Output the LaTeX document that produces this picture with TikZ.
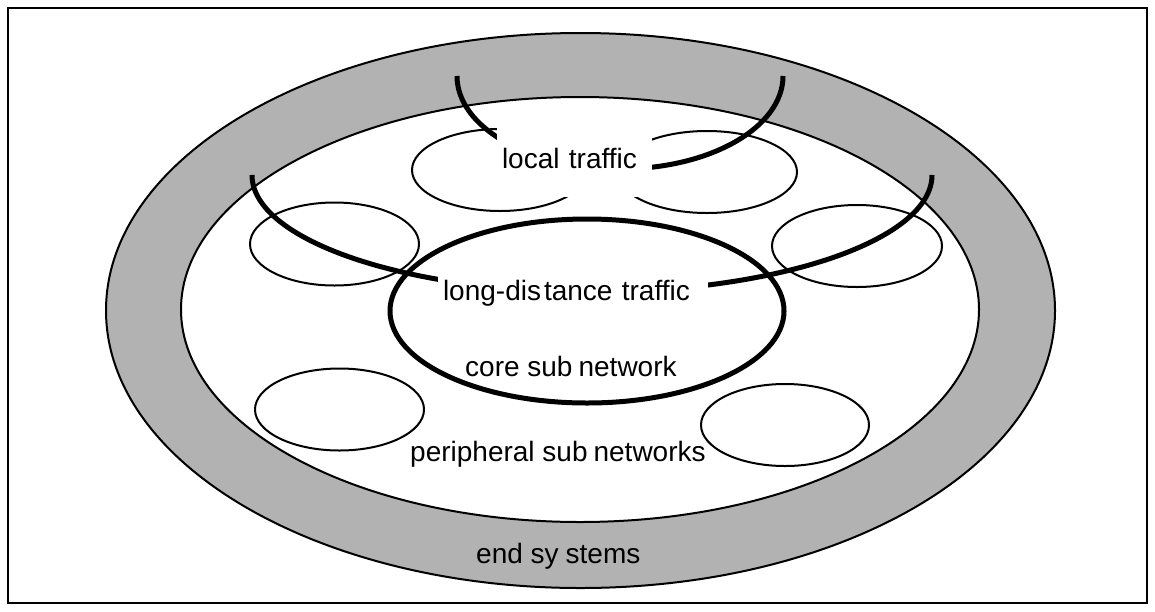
\documentclass[tikz,border=0pt]{standalone}
\usepackage{fontspec}
\setmainfont{Liberation Sans}
\usetikzlibrary{shapes.geometric}
\definecolor{bandgray}{RGB}{178,178,178}
\tikzset{
  ring/.style={ellipse, draw=black, line width=2pt, inner sep=0pt},
  subnet/.style={ellipse, draw=black, line width=2pt, inner sep=0pt},
  corenet/.style={ellipse, draw=black, line width=5pt, inner sep=0pt},
  traffic/.style={draw=black, line width=5pt},
  caption/.style={font=\fontsize{28}{34}\selectfont, inner sep=0pt, anchor=base west},
  gapbox/.style={fill=white, inner xsep=5pt, inner ysep=0pt, align=left,
                 font=\fontsize{28}{34}\selectfont}
}
\begin{document}
\begin{tikzpicture}[x=1pt,y=1pt]
\useasboundingbox (0,0) rectangle (1155,-611);
% frame
\draw[line width=2pt] (8,-8) rectangle (1147,-603);
% end systems band and the area of the subnetworks
\node[ring, fill=bandgray, minimum width=949pt, minimum height=555pt] (endsys) at (580.5,-310.5) {};
\node[ring, fill=white, minimum width=798pt, minimum height=425pt] (inner) at (580,-309.5) {};
% peripheral subnetworks
\node[subnet, minimum width=176pt, minimum height=82pt] (ptl) at (500,-170) {};
\node[subnet, minimum width=180pt, minimum height=82pt] (ptr) at (707,-172) {};
\node[subnet, minimum width=169pt, minimum height=83pt] (pml) at (334.5,-244) {};
\node[subnet, minimum width=170pt, minimum height=82pt] (pmr) at (857,-246) {};
\node[subnet, minimum width=169pt, minimum height=82pt] (pbl) at (339.5,-409.5) {};
\node[subnet, minimum width=168pt, minimum height=82pt] (pbr) at (785,-425) {};
% core subnetwork
\node[corenet, minimum width=394pt, minimum height=184pt] (core) at (587,-311) {};
% traffic paths
\coordinate (localstart) at (457,-76);
\coordinate (longstart) at (252,-175);
\draw[traffic] (localstart) arc[start angle=180, end angle=360, x radius=163, y radius=93];
\draw[traffic] (longstart) arc[start angle=180, end angle=360, x radius=340, y radius=117];
% labels
\node[gapbox, text width=145pt, minimum height=77pt] (localtxt) at (574.5,-158.5) {local traffic};
\node[gapbox, text width=260pt, minimum height=40pt] (longtxt) at (573,-293) {long-dis\kern3pt tance traffic};
\node[caption] (coretxt) at (465,-376.7) {core sub\kern6pt network};
\node[caption] (periphtxt) at (410,-461.7) {peripheral sub\kern6pt networks};
\node[caption] (endtxt) at (476,-563) {end sy\kern7pt stems};
\end{tikzpicture}
\end{document}
